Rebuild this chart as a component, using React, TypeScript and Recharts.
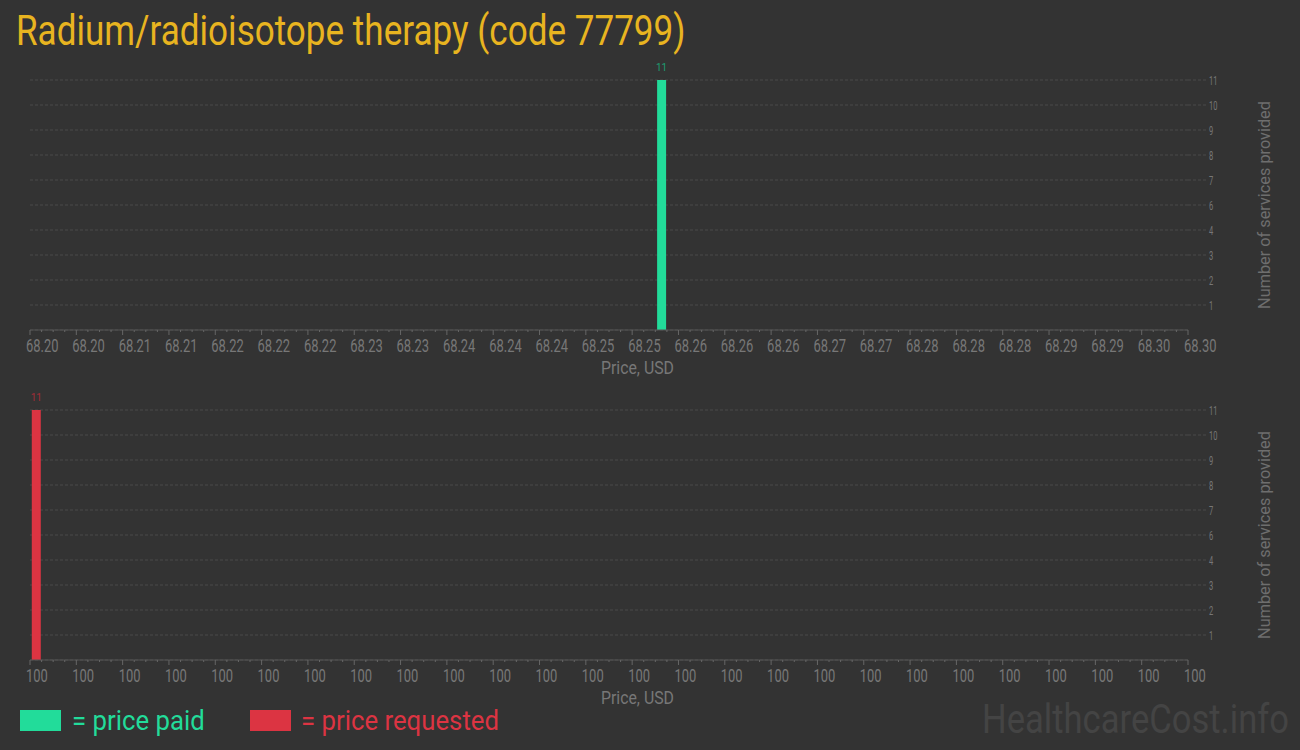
import React from 'react';
import { BarChart, Bar, XAxis, YAxis, CartesianGrid, LabelList } from 'recharts';

// histogram data: price -> number of services
const paidPrices = [68.2545];
const paidCounts = [11];
const requestedPrices = [100.0005];
const requestedCounts = [11];

const paidDomain = [68.2, 68.3];
const requestedDomain = [100, 100.1];

const paidTickLabels = [
  '68.20', '68.20', '68.21', '68.21', '68.22', '68.22', '68.22', '68.23', '68.23',
  '68.24', '68.24', '68.24', '68.25', '68.25', '68.26', '68.26', '68.26', '68.27',
  '68.27', '68.28', '68.28', '68.28', '68.29', '68.29', '68.30', '68.30',
];
const requestedTickLabels = [
  '100', '100', '100', '100', '100', '100', '100', '100', '100', '100', '100', '100', '100',
  '100', '100', '100', '100', '100', '100', '100', '100', '100', '100', '100', '100', '100',
];
const yTicks = [1.1, 2.2, 3.3, 4.4, 5.5, 6.6, 7.7, 8.8, 9.9, 11];

const BG = '#333333';
const GREEN = '#22dc9a';
const RED = '#dc3442';
const MUTED = '#777777';
const FONT = 'Roboto, sans-serif';

const makeXTick = (labels: string[]) => (props: any) => {
  const { x, y, index } = props;
  const major = index % 4 === 0;
  const label = major ? labels[index / 4] : null;
  return (
    <g>
      <line x1={x} x2={x} y1={y} y2={y + (major ? 5 : 2)} stroke="#666" />
      {label && (
        <text
          transform={`translate(${x - 4},${y + 22}) scale(0.7,1)`}
          fontSize={18.5}
          fill={MUTED}
          fontFamily={FONT}
        >
          {label}
        </text>
      )}
    </g>
  );
};

const YTick = (props: any) => {
  const { x, y, payload } = props;
  return (
    <text
      transform={`translate(${x + 1},${y + 4.5}) scale(0.6,1)`}
      fontSize={12.5}
      fill={MUTED}
      fontFamily={FONT}
    >
      {Math.round(payload.value)}
    </text>
  );
};

interface HistProps {
  prices: number[];
  counts: number[];
  domain: number[];
  labels: string[];
  color: string;
  labelColor: string;
}

const Histogram: React.FC<HistProps> = ({ prices, counts, domain, labels, color, labelColor }) => {
  const data = prices.map((p, i) => ({ price: p, count: counts[i] }));
  const minorTicks = Array.from({ length: 101 }, (_, i) => domain[0] + (i * (domain[1] - domain[0])) / 100);
  return (
    <BarChart
      width={1300}
      height={380}
      data={data}
      margin={{ top: 80, left: 30, right: 0, bottom: 0 }}
      style={{ fontFamily: FONT }}
    >
      <CartesianGrid vertical={false} stroke="#4a4a4a" strokeDasharray="3 2" />
      <XAxis
        dataKey="price"
        type="number"
        domain={domain}
        ticks={minorTicks}
        interval={0}
        height={50}
        tickSize={0}
        tickMargin={0}
        tickLine={false}
        tick={makeXTick(labels)}
        axisLine={{ stroke: '#555' }}
        allowDataOverflow
      />
      <YAxis
        orientation="right"
        domain={[0, 11]}
        ticks={yTicks}
        interval={0}
        width={112}
        axisLine={false}
        tickSize={18}
        tickMargin={2}
        tickLine={{ stroke: '#4a4a4a', strokeDasharray: '3 2' }}
        tick={<YTick />}
        label={{
          value: 'Number of services provided',
          angle: -90,
          position: 'center',
          dx: 20,
          fill: '#6e6e6e',
          fontSize: 16.3,
          fontFamily: FONT,
        }}
      />
      <Bar dataKey="count" fill={color} barSize={9} isAnimationActive={false}>
        <LabelList dataKey="count" position="top" offset={9} fill={labelColor} fontSize={10} />
      </Bar>
    </BarChart>
  );
};

export default function App() {
  return (
    <div style={{ position: 'fixed', left: 0, top: 0, width: 1300, height: 750, background: BG, overflow: 'hidden' }}>
      <div style={{ position: 'absolute', left: 0, top: 0 }}>
        <Histogram
          prices={paidPrices}
          counts={paidCounts}
          domain={paidDomain}
          labels={paidTickLabels}
          color={GREEN}
          labelColor="#1c9e71"
        />
      </div>
      <div style={{ position: 'absolute', left: 0, top: 330 }}>
        <Histogram
          prices={requestedPrices}
          counts={requestedCounts}
          domain={requestedDomain}
          labels={requestedTickLabels}
          color={RED}
          labelColor="#a32c37"
        />
      </div>
      <svg width={1300} height={750} style={{ position: 'absolute', left: 0, top: 0, pointerEvents: 'none' }} fontFamily={FONT}>
        <text transform="translate(16,45) scale(0.835,1)" fontSize={42} fill="#e8b420">
          Radium/radioisotope therapy (code 77799)
        </text>
        <text transform="translate(601,374) scale(0.88,1)" fontSize={18} fill={MUTED}>
          Price, USD
        </text>
        <text transform="translate(601,704) scale(0.88,1)" fontSize={18} fill={MUTED}>
          Price, USD
        </text>
        <rect x={20} y={710} width={41} height={21} fill={GREEN} />
        <text transform="translate(72,730) scale(0.92,1)" fontSize={28} fill={GREEN}>
          = price paid
        </text>
        <rect x={250} y={710} width={41} height={21} fill={RED} />
        <text transform="translate(301,730) scale(0.92,1)" fontSize={28} fill={RED}>
          = price requested
        </text>
        <text transform="translate(982,733) scale(0.865,1)" fontSize={40} fill="#444444">
          HealthcareCost.info
        </text>
      </svg>
    </div>
  );
}
